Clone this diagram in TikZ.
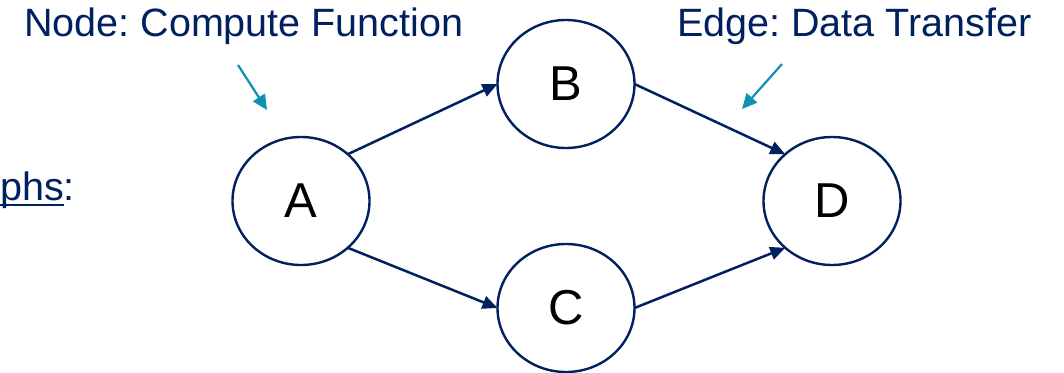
\documentclass[tikz,border=0pt]{standalone}
\usepackage{fontspec}
\setmainfont{Liberation Sans}
\usetikzlibrary{arrows.meta,shapes.geometric}
\definecolor{navy}{RGB}{0,32,96}
\definecolor{teal}{RGB}{16,145,180}
\frenchspacing
\begin{document}
\begin{tikzpicture}[x=1pt,y=-1pt,
  vertex/.style={ellipse,draw=navy,line width=2.4pt,minimum width=137pt,
    minimum height=128pt,inner sep=0pt,outer sep=0pt,
    font=\fontsize{49}{58}\selectfont,text=black},
  flow/.style={draw=navy,line width=2.5pt,-{Triangle[length=15pt,width=13pt]}},
  pointer/.style={draw=teal,line width=2.2pt,-{Triangle[length=15pt,width=14pt]}},
  label/.style={font=\fontsize{39.5}{47}\selectfont,text=navy,inner sep=0pt,anchor=base west}]
\useasboundingbox (0,0) rectangle (1064,372);

% graph vertices
\node[vertex] (A) at (301,201) {A};
\node[vertex] (B) at (566,84) {B};
\node[vertex] (C) at (566,308) {C};
\node[vertex] (D) at (832,201) {D};

% data-transfer edges
\draw[flow] (A.45) -- (B.west);
\draw[flow] (A.-45) -- (C.west);
\draw[flow] (B.east) -- (D.135);
\draw[flow] (C.east) -- (D.-135);

% captions
\node[label] (nodecap) at (24,36) {Node: Compute Function};
\node[label] (edgecap) at (677,36) {Edge: Data Transfer};
\node[label] (phs) at (0,200) {phs:};
\draw[navy,line width=2pt] (0,205) -- (64,205);

% caption pointers
\coordinate (p1s) at (238,65);
\coordinate (p1e) at (267,110);
\coordinate (p2s) at (782,64);
\coordinate (p2e) at (742,109);
\draw[pointer] (p1s) -- (p1e);
\draw[pointer] (p2s) -- (p2e);
\end{tikzpicture}
\end{document}
